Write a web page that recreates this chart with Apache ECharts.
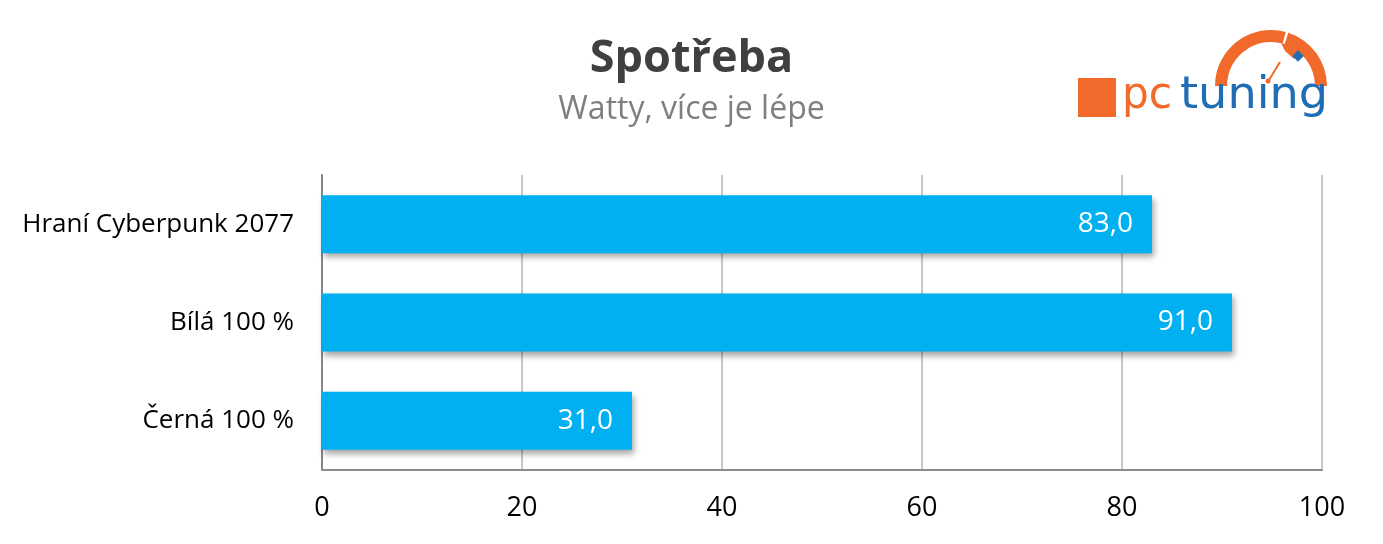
<!DOCTYPE html>
<html><head><meta charset="utf-8">
<script src="https://cdn.jsdelivr.net/npm/echarts@6/dist/echarts.min.js"></script>
<style>html,body{margin:0;padding:0;background:#fff}#c{width:1383px;height:544px}</style>
</head><body><div id="c"></div>
<script>
var categories = ['Hraní Cyberpunk 2077', 'Bílá 100 %', 'Černá 100 %'];
var values = [83.0, 91.0, 31.0];
var xTicks = [0, 20, 40, 60, 80, 100];
var titleText = 'Spotřeba';
var subtitleText = 'Watty, více je lépe';

var FONT = '"Open Sans", sans-serif';
var chart = echarts.init(document.getElementById('c'), null, {renderer: 'canvas'});
chart.setOption({
  animation: false,
  backgroundColor: '#fff',
  title: {
    text: titleText, subtext: subtitleText, left: 'center', top: 32, itemGap: 12,
    textStyle: {fontFamily: FONT, fontWeight: 'bold', fontSize: 45, color: '#404040'},
    subtextStyle: {fontFamily: FONT, fontSize: 32, color: '#7f7f7f'}
  },
  grid: {left: 322, right: 61, top: 175, bottom: 74, containLabel: false},
  xAxis: {
    type: 'value', min: xTicks[0], max: xTicks[xTicks.length - 1], interval: 20,
    axisLine: {show: true, lineStyle: {color: '#8c8c8c', width: 2}},
    axisTick: {show: false},
    axisLabel: {margin: 25, fontFamily: FONT, fontSize: 27, color: '#000'},
    splitLine: {show: true, lineStyle: {color: '#c8c8c8', width: 2}}
  },
  yAxis: {
    type: 'category', data: categories, inverse: true,
    axisLine: {show: true, lineStyle: {color: '#868686', width: 2}},
    axisTick: {show: false},
    axisLabel: {margin: 28, fontFamily: FONT, fontSize: 26, color: '#000'}
  },
  series: [{
    type: 'bar', data: values, barWidth: '59%',
    itemStyle: {color: '#00b0f0', shadowColor: 'rgba(0,0,0,0.35)', shadowBlur: 6, shadowOffsetX: 2, shadowOffsetY: 4},
    label: {show: true, position: 'insideRight', distance: 19, color: '#fff', fontFamily: FONT, fontSize: 28,
      formatter: function (p) { return p.value.toFixed(1).replace('.', ','); }}
  }],
  graphic: [
    {type: 'rect', shape: {x: 1078, y: 78, width: 38, height: 39}, style: {fill: '#f26a2b'}},
    {type: 'sector', shape: {cx: 1271, cy: 86, r: 56, r0: 44, startAngle: Math.PI, endAngle: Math.PI * 1.585}, style: {fill: '#f26a2b'}},
    {type: 'sector', shape: {cx: 1271, cy: 86, r: 56, r0: 44, startAngle: Math.PI * 1.6, endAngle: Math.PI * 2}, style: {fill: '#f26a2b'}},
    {type: 'polygon', shape: {points: [[1281, 43], [1300, 48], [1294, 59], [1285, 51]]}, style: {fill: '#f26a2b'}},
    {type: 'rect', shape: {x: -4, y: -4, width: 8, height: 8}, x: 1298, y: 56, rotation: Math.PI / 4, style: {fill: '#1f6db5'}},
    {type: 'line', shape: {x1: 1280, y1: 62, x2: 1269, y2: 80}, style: {stroke: '#f26a2b', lineWidth: 2}},
    {type: 'circle', shape: {cx: 1268, cy: 81, r: 2.5}, style: {fill: '#f26a2b'}},
    {type: 'text', x: 1122, y: 97, scaleX: 0.96, style: {text: 'pc', fill: '#f26a2b', font: '44px "DejaVu Sans"', textVerticalAlign: 'middle'}},
    {type: 'text', x: 1180, y: 97, scaleX: 1.05, style: {text: 'tuning', fill: '#1f6db5', font: '44px "DejaVu Sans"', textVerticalAlign: 'middle'}}
  ]
});
</script></body></html>
